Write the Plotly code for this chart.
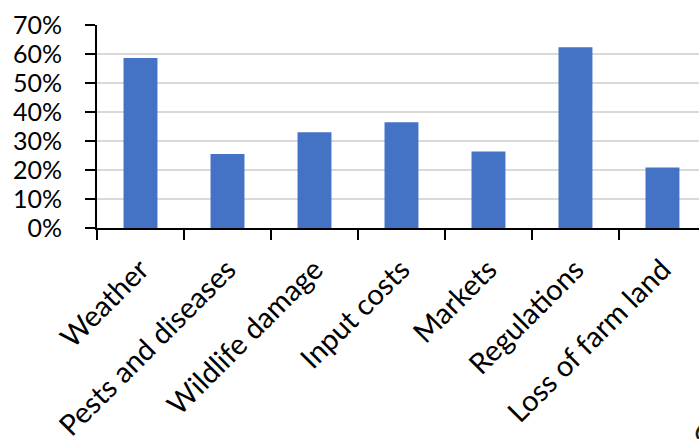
import plotly.graph_objects as go

categories = ["Weather", "Pests and diseases", "Wildlife damage", "Input costs",
              "Markets", "Regulations", "Loss of farm land"]
values = [0.586, 0.255, 0.33, 0.365, 0.264, 0.623, 0.209]
y_ticks = [0, 0.1, 0.2, 0.3, 0.4, 0.5, 0.6, 0.7]
y_tick_labels = ["0%", "10%", "20%", "30%", "40%", "50%", "60%", "70%"]

fig = go.Figure(go.Bar(x=categories, y=values, marker_color="#4472C4",
                       marker_line_width=0, width=0.39))

fig.update_layout(
    width=699, height=439,
    margin=dict(l=97, r=0, t=25, b=211),
    plot_bgcolor="white", paper_bgcolor="white",
    font=dict(family="Lato", size=24, color="black"),
    showlegend=False,
)
fig.update_xaxes(
    type="category", range=[-0.5, 6.42], automargin=False,
    showline=True, linecolor="black", linewidth=2,
    ticks="outside", tickson="boundaries", ticklen=10, tickwidth=2, tickcolor="black",
    tickangle=-45, tickfont=dict(size=29), showgrid=False, ticklabelstandoff=11,
)
fig.update_yaxes(
    range=[0, 0.7], tickvals=y_ticks, ticktext=y_tick_labels, automargin=False,
    showline=True, linecolor="black", linewidth=2,
    ticks="outside", ticklen=10, tickwidth=2, tickcolor="black",
    gridcolor="#D9D9D9", gridwidth=2, zeroline=False,
    tickfont=dict(size=25), ticklabelstandoff=18,
)
fig.add_annotation(text="6", xref="paper", yref="paper", x=1.0, y=-0.89,
                   xanchor="left", yanchor="top", xshift=-7,
                   showarrow=False, font=dict(size=30, color="#2a1e08"))
fig.write_html("out.html")
